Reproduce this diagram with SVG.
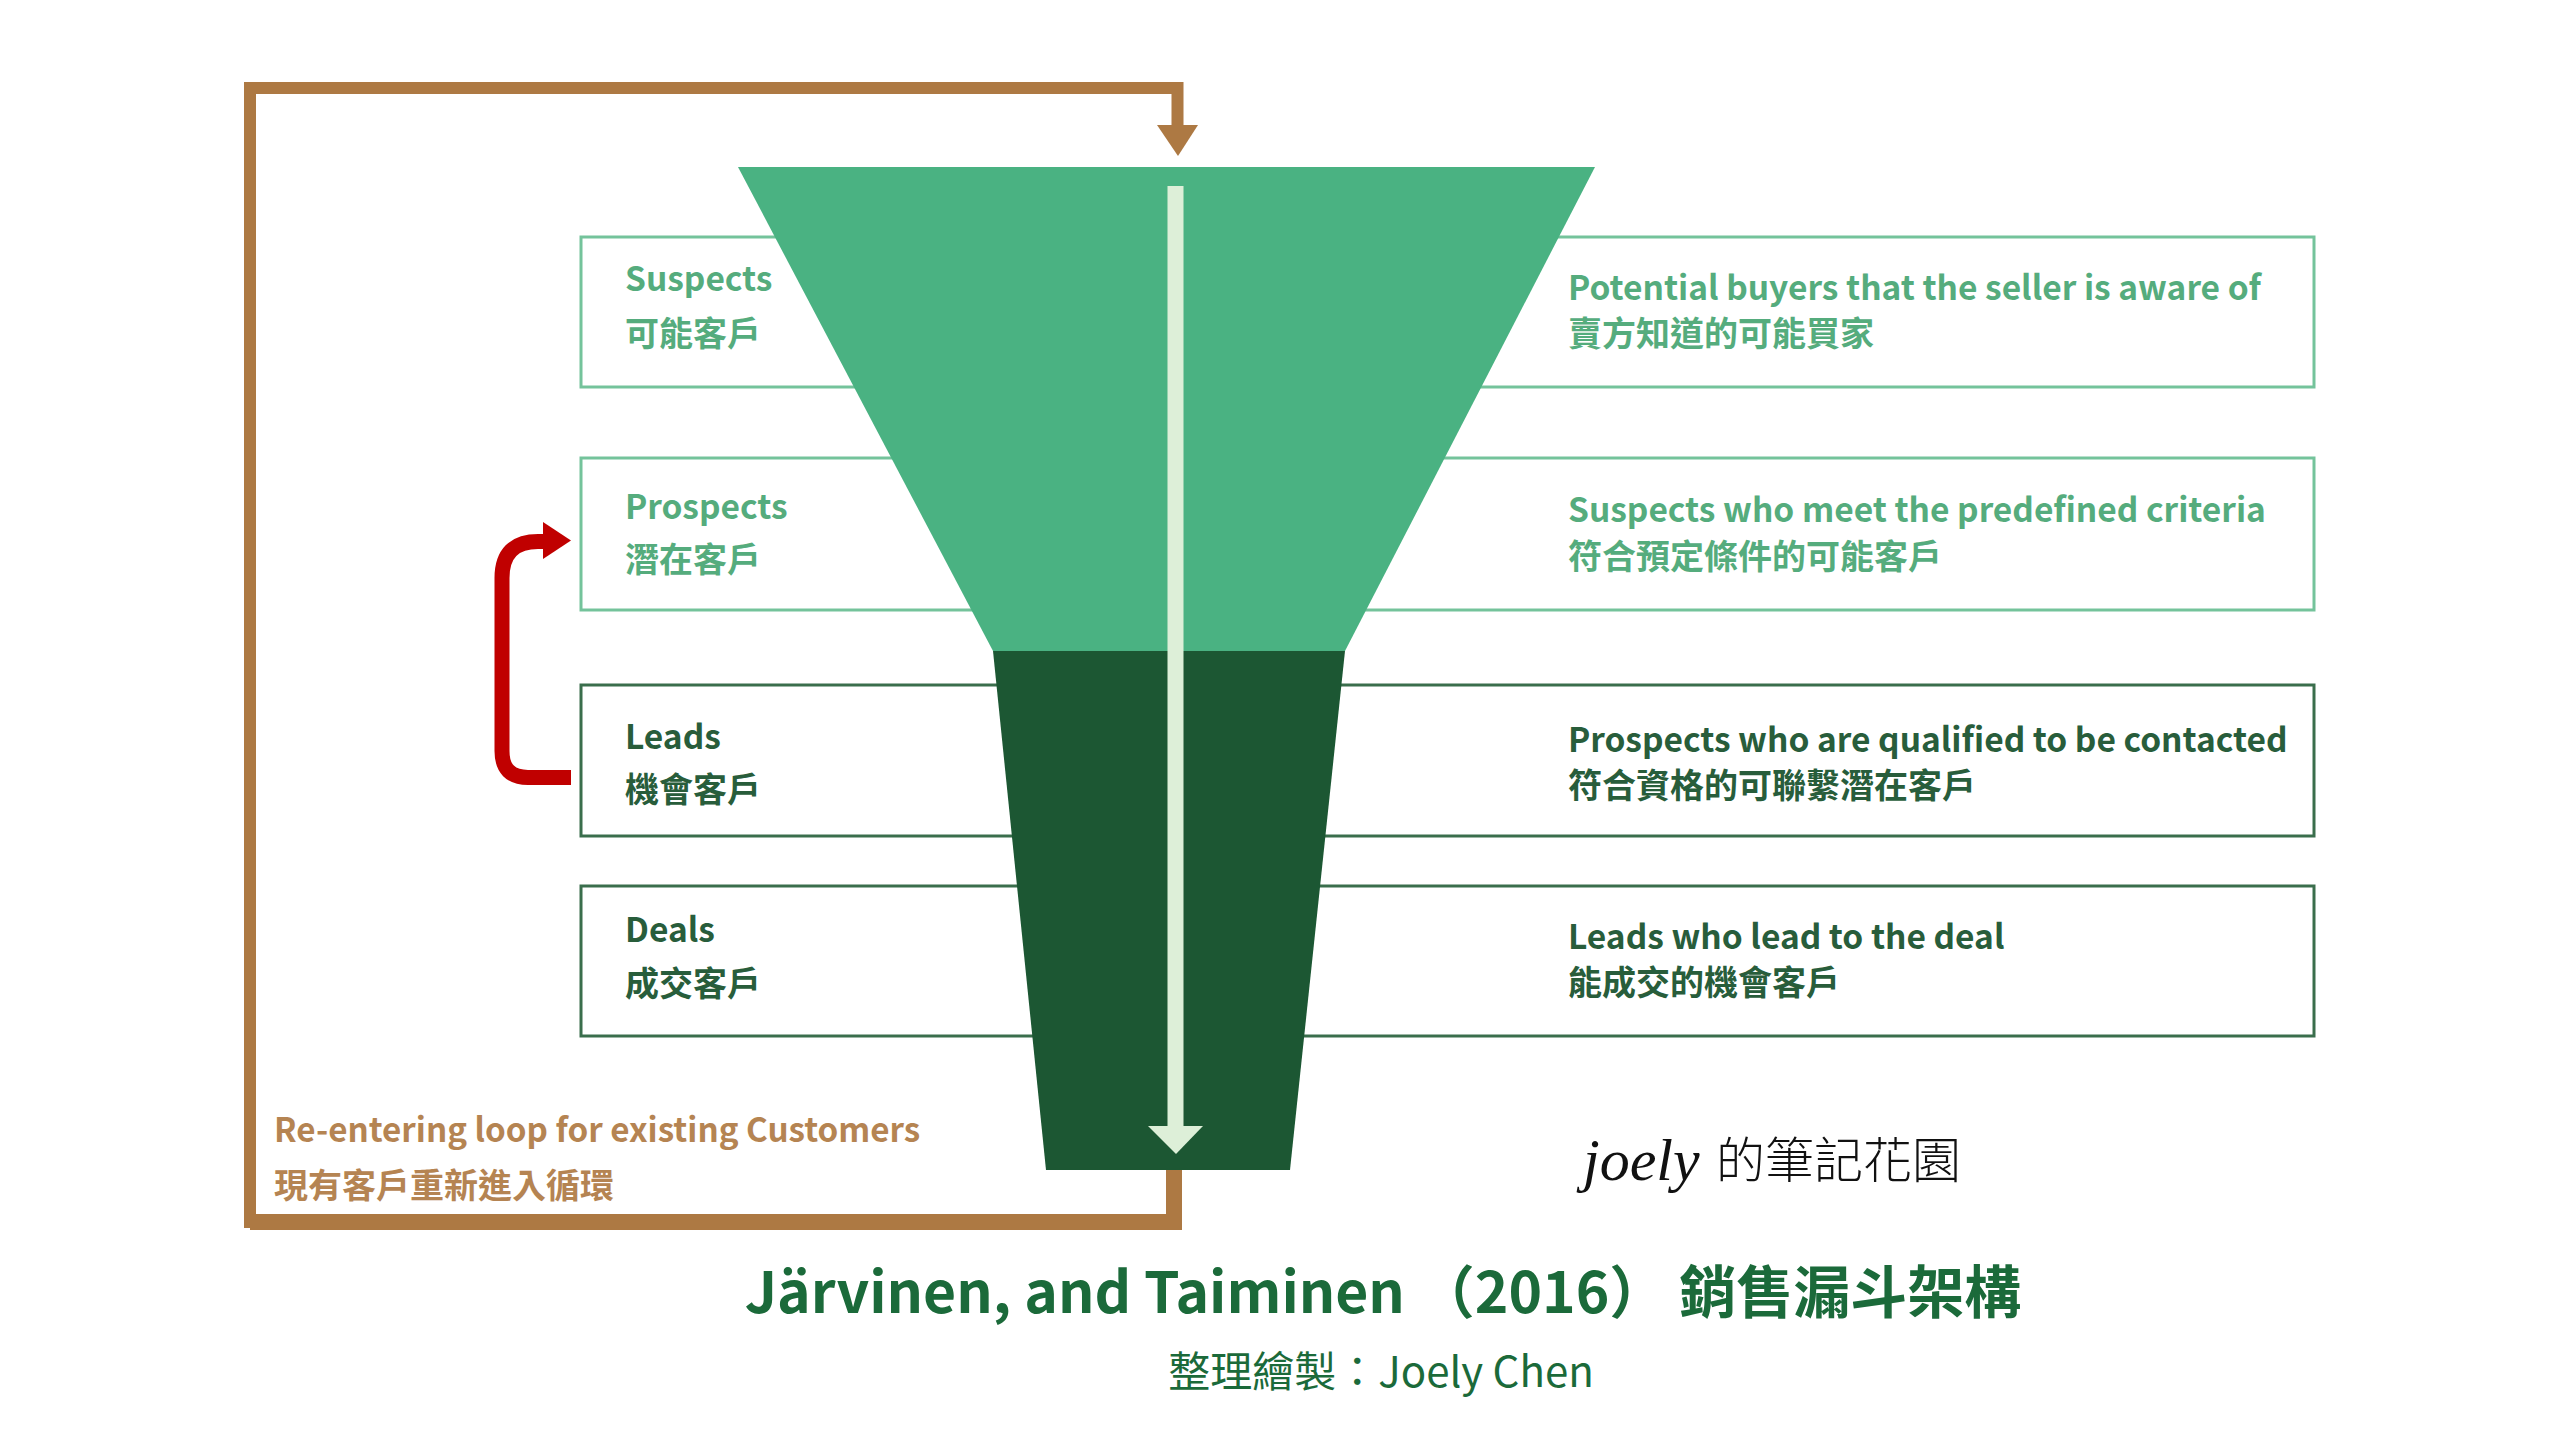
<svg xmlns="http://www.w3.org/2000/svg" width="2560" height="1440" viewBox="0 0 2560 1440">
<defs>
<style>
.bg{fill:#ffffff}
.boxL{fill:#ffffff;stroke:#74C39B;stroke-width:3}
.boxD{fill:#ffffff;stroke:#3A6E4C;stroke-width:3}
.t{font-family:"Noto Sans CJK TC","Noto Sans",sans-serif;font-weight:700;font-size:33.5px}
.c{font-family:"Noto Sans CJK TC","Noto Sans",sans-serif;font-weight:700;font-size:34px}
.tl{fill:#55AC7D}
.td{fill:#285D3B}
.loop{font-family:"Noto Sans CJK TC","Noto Sans",sans-serif;font-weight:700;fill:#B58452}
.brown{fill:none;stroke:#AD7943;stroke-linejoin:miter}
.red{fill:none;stroke:#C00000;stroke-width:15}
</style>
</defs>
<rect class="bg" x="0" y="0" width="2560" height="1440"/>

<g id="row-suspects">
<rect class="boxL" x="581" y="237" width="1733" height="150"/>
<text class="t tl" x="625" y="291">Suspects</text>
<text class="c tl" x="625" y="346">可能客戶</text>
<text class="t tl" x="1568" y="300">Potential buyers that the seller is aware of</text>
<text class="c tl" x="1568" y="346">賣方知道的可能買家</text>
</g>
<g id="row-prospects">
<rect class="boxL" x="581" y="458" width="1733" height="152"/>
<text class="t tl" x="625" y="519">Prospects</text>
<text class="c tl" x="625" y="572">潛在客戶</text>
<text class="t tl" x="1568" y="522">Suspects who meet the predefined criteria</text>
<text class="c tl" x="1568" y="569">符合預定條件的可能客戶</text>
</g>
<g id="row-leads">
<rect class="boxD" x="581" y="685" width="1733" height="151"/>
<text class="t td" x="625" y="749">Leads</text>
<text class="c td" x="625" y="802">機會客戶</text>
<text class="t td" x="1568" y="752">Prospects who are qualified to be contacted</text>
<text class="c td" x="1568" y="798">符合資格的可聯繫潛在客戶</text>
</g>
<g id="row-deals">
<rect class="boxD" x="581" y="886" width="1733" height="150"/>
<text class="t td" x="625" y="942">Deals</text>
<text class="c td" x="625" y="996">成交客戶</text>
<text class="t td" x="1568" y="949">Leads who lead to the deal</text>
<text class="c td" x="1568" y="995">能成交的機會客戶</text>
</g>

<g id="funnel">
<polygon points="738,167 1595,167 1345,651 993,651" fill="#4AB282"/>
<polygon points="993,651 1345,651 1290,1170 1046,1170" fill="#1C5733"/>
</g>

<g id="connectors">
<line x1="1175.5" y1="186" x2="1175.5" y2="1128" stroke="#DDEFD8" stroke-width="16"/>
<polygon points="1148,1126 1203,1126 1176,1154" fill="#DDEFD8"/>
<path class="brown" d="M1174 1170 V1222 H250" stroke-width="16"/>
<path class="brown" d="M250 1228 V88 H1177.5 V127" stroke-width="12"/>
<polygon points="1157,125 1198,125 1178,156" fill="#AD7943"/>
<path class="red" d="M571 777.5 H528 Q502 777.5 502 751 V578 Q502 541.5 538 541.5 H546"/>
<polygon points="543,522 543,559 571,540.5" fill="#C00000"/>
</g>

<g id="loop-label">
<text class="loop" x="274" y="1142" font-size="33.2">Re-entering loop for existing Customers</text>
<text class="loop" x="274" y="1198" font-size="34">現有客戶重新進入循環</text>
</g>

<g id="signature">
<text x="1583" y="1180" font-family="Liberation Serif, serif" font-style="italic" font-size="60" fill="#111111">joely</text>
<text x="1716" y="1178" font-family="Noto Sans CJK TC, sans-serif" font-weight="300" font-size="49" fill="#111111">的筆記花園</text>
</g>

<g id="title">
<text x="1383" y="1313" text-anchor="middle" font-family="Noto Sans CJK TC, Noto Sans, sans-serif" font-weight="700" font-size="57" fill="#1B6A3A">Järvinen, and Taiminen （2016） 銷售漏斗架構</text>
<text x="1381" y="1387" text-anchor="middle" font-family="Noto Sans CJK TC, Noto Sans, sans-serif" font-weight="400" font-size="42" fill="#1B6A3A">整理繪製：Joely Chen</text>
</g>
</svg>
